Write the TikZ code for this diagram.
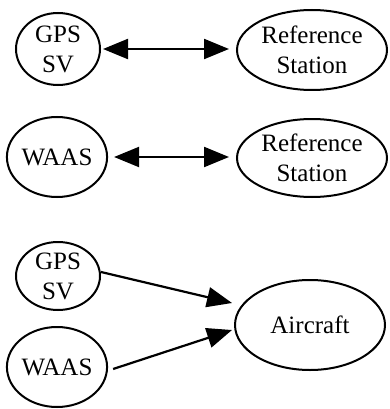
\documentclass[tikz,border=0pt]{standalone}
\usepackage{fontspec}
\setmainfont{Liberation Serif}
\usetikzlibrary{shapes.geometric,arrows.meta}
\begin{document}
\begin{tikzpicture}[x=1pt,y=-1pt,
  oval/.style={draw,ellipse,line width=2pt,inner sep=0pt,align=center,
    font=\rmfamily\fontsize{25}{30}\selectfont},
  link/.style={line width=2.2pt,-{Triangle[length=25pt,width=20pt]}},
  dbllink/.style={line width=2.2pt,{Triangle[length=25pt,width=20pt]}-{Triangle[length=25pt,width=20pt]}}]
\useasboundingbox (0,0) rectangle (390,409);

% satellite / reference station pairs
\node[oval,minimum width=84pt,minimum height=72pt] (gpsA) at (58,49) {GPS\\SV};
\node[oval,minimum width=150pt,minimum height=80pt] (refA) at (312,50) {Reference\\Station};
\node[oval,minimum width=100pt,minimum height=80pt] (waasA) at (57,157) {WAAS};
\node[oval,minimum width=150pt,minimum height=78pt] (refB) at (312,158) {Reference\\Station};

% signals received by the aircraft
\node[oval,minimum width=84pt,minimum height=68pt] (gpsB) at (58,276) {GPS\\SV};
\node[oval,minimum width=100pt,minimum height=80pt] (waasB) at (57,367) {WAAS};
\node[oval,minimum width=150pt,minimum height=90pt] (air) at (310,325) {Aircraft};

\draw[dbllink] ([xshift=2pt]gpsA.east) -- ([xshift=-7pt]refA.west |- gpsA.east);
\draw[dbllink] ([xshift=6pt]waasA.east) -- ([xshift=-7pt]refB.west |- waasA.east);
\draw[link] ([shift={(0,-4)}]gpsB.east) -- ([shift={(-2,-22)}]air.west);
\draw[link] ([shift={(5,2)}]waasB.east) -- ([shift={(-2,5)}]air.west);
\end{tikzpicture}
\end{document}
